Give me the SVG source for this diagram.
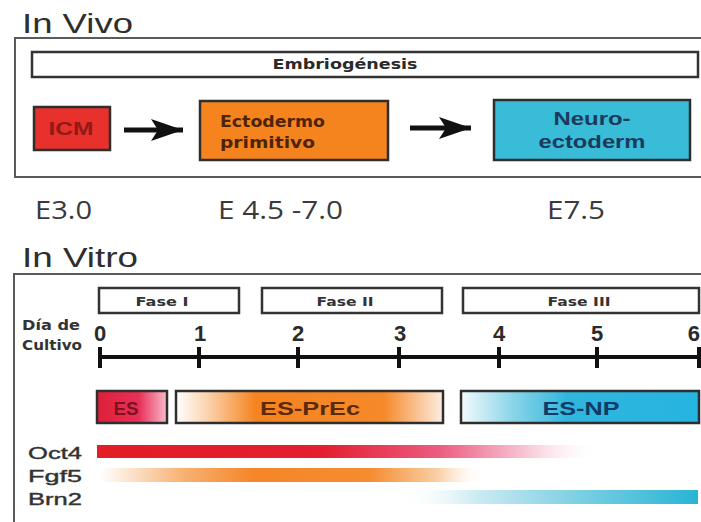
<svg xmlns="http://www.w3.org/2000/svg" width="701" height="522" viewBox="0 0 701 522">
  <style>
    .title { font-family: "Liberation Sans", Arial, sans-serif; font-size: 27px; fill: #2e2e2e; }
    .frame { fill: none; stroke: #5a5a5a; stroke-width: 2; }
    .bar { fill: #ffffff; stroke: #333333; stroke-width: 2.5; }
    .bold { font-family: "DejaVu Sans", Verdana, sans-serif; font-weight: bold; }
    .stage { font-family: "Open Sans", "Liberation Sans", sans-serif; font-size: 26px; fill: #3a3a3a; }
    .day { font-family: "Liberation Sans", Arial, sans-serif; font-weight: bold; font-size: 22px; fill: #2a2a2a; text-anchor: middle; }
    .cell { stroke: #2e2e2e; stroke-width: 2.5; }
    .lbl { font-family: "Liberation Sans", Arial, sans-serif; font-weight: bold; font-size: 18px; }
    .gene { font-family: "Liberation Sans", Arial, sans-serif; font-size: 17px; fill: #333333; stroke: #333333; stroke-width: 0.4; }
    .arrow { stroke: #111111; stroke-width: 5; fill: none; }
    .tick { stroke: #111111; stroke-width: 4; }
  </style>
  <defs>
    <marker id="head" viewBox="0 0 32 24" refX="32" refY="12" markerWidth="32" markerHeight="24" markerUnits="userSpaceOnUse" orient="auto">
      <path d="M0,1 L32,12 L0,23 L7,12 Z" fill="#111111"/>
    </marker>
    <linearGradient id="gES" x1="0" y1="0" x2="1" y2="0">
      <stop offset="0" stop-color="#de1f38"/>
      <stop offset="0.6" stop-color="#e83058"/>
      <stop offset="1" stop-color="#f7bccb"/>
    </linearGradient>
    <linearGradient id="gPrEc" x1="0" y1="0" x2="1" y2="0">
      <stop offset="0" stop-color="#ffffff"/>
      <stop offset="0.12" stop-color="#fbd2ac"/>
      <stop offset="0.3" stop-color="#f5831f"/>
      <stop offset="0.78" stop-color="#f58a2a"/>
      <stop offset="1" stop-color="#fdeee2"/>
    </linearGradient>
    <linearGradient id="gNP" x1="0" y1="0" x2="1" y2="0">
      <stop offset="0" stop-color="#f2fbfd"/>
      <stop offset="0.22" stop-color="#8ad4e8"/>
      <stop offset="0.45" stop-color="#2fb6de"/>
      <stop offset="1" stop-color="#25b4e0"/>
    </linearGradient>
    <linearGradient id="gOct4" x1="0" y1="0" x2="1" y2="0">
      <stop offset="0" stop-color="#e21d26"/>
      <stop offset="0.45" stop-color="#e31f30"/>
      <stop offset="0.68" stop-color="#ec5c80"/>
      <stop offset="0.85" stop-color="#f7c4d3"/>
      <stop offset="1" stop-color="#ffffff" stop-opacity="0"/>
    </linearGradient>
    <linearGradient id="gFgf5" x1="0" y1="0" x2="1" y2="0">
      <stop offset="0" stop-color="#ffffff"/>
      <stop offset="0.22" stop-color="#f7b070"/>
      <stop offset="0.4" stop-color="#f5862a"/>
      <stop offset="0.7" stop-color="#f58c30"/>
      <stop offset="0.88" stop-color="#fad0a8"/>
      <stop offset="1" stop-color="#ffffff" stop-opacity="0"/>
    </linearGradient>
    <linearGradient id="gBrn2" x1="0" y1="0" x2="1" y2="0">
      <stop offset="0" stop-color="#ffffff" stop-opacity="0"/>
      <stop offset="0.25" stop-color="#cdebf3"/>
      <stop offset="0.6" stop-color="#7ccfe2"/>
      <stop offset="1" stop-color="#27b4d5"/>
    </linearGradient>
  </defs>

  <rect width="701" height="522" fill="#ffffff"/>

  <!-- In vivo panel -->
  <g id="invivo-panel">
    <text class="title" x="22" y="33" textLength="111" lengthAdjust="spacingAndGlyphs">In Vivo</text>
    <path class="frame" d="M705,38 H15 V177 H705"/>
  </g>
  <g id="embriogenesis">
    <rect class="bar" x="32" y="52" width="666" height="25"/>
    <text class="bold" x="345" y="69" font-size="14" fill="#2a2a2a" text-anchor="middle" textLength="145" lengthAdjust="spacingAndGlyphs">Embriogénesis</text>
  </g>
  <g id="icm">
    <rect class="cell" x="34" y="107" width="76" height="43" fill="#e8302c"/>
    <text class="lbl" x="71" y="135" font-weight="normal" fill="#8e1a1a" text-anchor="middle" textLength="45" lengthAdjust="spacingAndGlyphs">ICM</text>
  </g>
  <g id="ectodermo">
    <rect class="cell" x="200" y="101" width="188" height="59" fill="#f5841f"/>
    <text class="bold" x="220" y="127" font-size="15" fill="#4e2408" textLength="105" lengthAdjust="spacingAndGlyphs">Ectodermo</text>
    <text class="bold" x="220" y="148" font-size="15" fill="#4e2408" textLength="95" lengthAdjust="spacingAndGlyphs">primitivo</text>
  </g>
  <g id="neuroectoderm">
    <rect class="cell" x="494" y="100" width="196" height="60" fill="#38bcd8"/>
    <text class="lbl" x="592" y="125" font-size="19" fill="#1b3a5c" text-anchor="middle" textLength="77" lengthAdjust="spacingAndGlyphs">Neuro-</text>
    <text class="lbl" x="592" y="148" font-size="19" fill="#1b3a5c" text-anchor="middle" textLength="107" lengthAdjust="spacingAndGlyphs">ectoderm</text>
  </g>
  <g id="stages">
    <text class="stage" x="35" y="219" textLength="57" lengthAdjust="spacingAndGlyphs">E3.0</text>
    <text class="stage" x="218" y="219" textLength="125" lengthAdjust="spacingAndGlyphs">E 4.5 -7.0</text>
    <text class="stage" x="547" y="219" textLength="58" lengthAdjust="spacingAndGlyphs">E7.5</text>
  </g>

  <!-- In vitro panel -->
  <g id="invitro-panel">
    <text class="title" x="22" y="267" textLength="116" lengthAdjust="spacingAndGlyphs">In Vitro</text>
    <path class="frame" d="M705,274 H14 V530"/>
  </g>
  <g id="fase-1">
    <rect class="bar" x="99" y="288" width="140" height="25"/>
    <text class="bold" x="162" y="306" font-size="13" fill="#333333" text-anchor="middle" textLength="53" lengthAdjust="spacingAndGlyphs">Fase I</text>
  </g>
  <g id="fase-2">
    <rect class="bar" x="262" y="288" width="180" height="25"/>
    <text class="bold" x="345" y="306" font-size="13" fill="#333333" text-anchor="middle" textLength="57" lengthAdjust="spacingAndGlyphs">Fase II</text>
  </g>
  <g id="fase-3">
    <rect class="bar" x="463" y="288" width="236" height="25"/>
    <text class="bold" x="579" y="306" font-size="13" fill="#333333" text-anchor="middle" textLength="63" lengthAdjust="spacingAndGlyphs">Fase III</text>
  </g>
  <g id="timeline">
    <text class="bold" x="22" y="330" font-size="14" fill="#333333" textLength="58" lengthAdjust="spacingAndGlyphs">Día de</text>
    <text class="bold" x="22" y="350" font-size="14" fill="#333333" textLength="60" lengthAdjust="spacingAndGlyphs">Cultivo</text>
    <line class="tick" x1="100" y1="357" x2="705" y2="357"/>
    <line class="tick" x1="100" y1="347" x2="100" y2="368"/>
    <line class="tick" x1="199" y1="347" x2="199" y2="368"/>
    <line class="tick" x1="298" y1="347" x2="298" y2="368"/>
    <line class="tick" x1="399" y1="347" x2="399" y2="368"/>
    <line class="tick" x1="499" y1="347" x2="499" y2="368"/>
    <line class="tick" x1="597" y1="347" x2="597" y2="368"/>
    <line class="tick" x1="699" y1="347" x2="699" y2="368"/>
    <text class="day" x="100" y="341">0</text>
    <text class="day" x="200" y="341">1</text>
    <text class="day" x="298" y="341">2</text>
    <text class="day" x="400" y="341">3</text>
    <text class="day" x="499" y="341">4</text>
    <text class="day" x="597" y="341">5</text>
    <text class="day" x="700" y="341" style="text-anchor: end">6</text>
  </g>
  <g id="es">
    <rect class="cell" x="97" y="391" width="70" height="32" fill="url(#gES)"/>
    <text class="lbl" x="126" y="415" fill="#7a1224" text-anchor="middle" textLength="25" lengthAdjust="spacingAndGlyphs">ES</text>
  </g>
  <g id="es-prec">
    <rect class="cell" x="176" y="391" width="267" height="32" fill="url(#gPrEc)"/>
    <text class="lbl" x="310" y="415" fill="#5a2a0c" text-anchor="middle" textLength="100" lengthAdjust="spacingAndGlyphs">ES-PrEc</text>
  </g>
  <g id="es-np">
    <rect class="cell" x="461" y="391" width="238" height="32" fill="url(#gNP)"/>
    <text class="lbl" x="581" y="415" fill="#123a66" text-anchor="middle" textLength="77" lengthAdjust="spacingAndGlyphs">ES-NP</text>
  </g>
  <g id="expression">
    <text class="gene" x="28" y="459" textLength="54" lengthAdjust="spacingAndGlyphs">Oct4</text>
    <text class="gene" x="28" y="482" textLength="54" lengthAdjust="spacingAndGlyphs">Fgf5</text>
    <text class="gene" x="28" y="505" textLength="54" lengthAdjust="spacingAndGlyphs">Brn2</text>
    <rect x="97" y="445" width="503" height="13" fill="url(#gOct4)"/>
    <rect x="100" y="468" width="385" height="14" fill="url(#gFgf5)"/>
    <rect x="400" y="490" width="298" height="14" fill="url(#gBrn2)"/>
  </g>

  <!-- connectors -->
  <g id="connectors">
    <line class="arrow" x1="124" y1="130" x2="183" y2="130" marker-end="url(#head)"/>
    <line class="arrow" x1="410" y1="128" x2="471" y2="128" marker-end="url(#head)"/>
  </g>
</svg>
